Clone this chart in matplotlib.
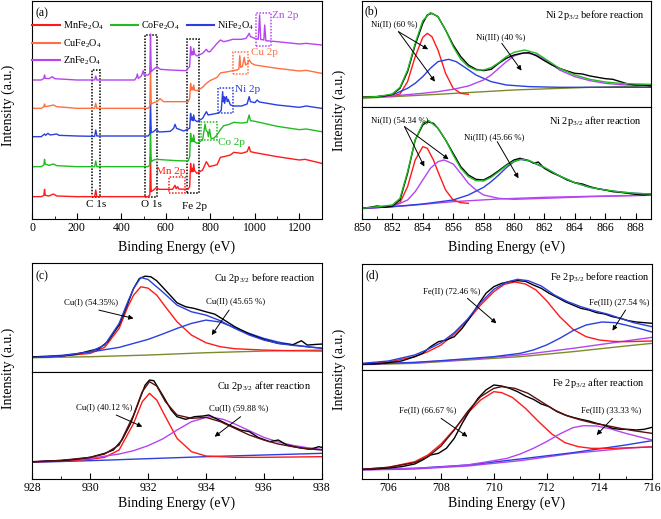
import numpy as np
import matplotlib
matplotlib.use("Agg")
import matplotlib.pyplot as plt
from matplotlib.lines import Line2D
from matplotlib.patches import Rectangle

plt.rcParams['font.family'] = ['Liberation Serif', 'DejaVu Serif']
plt.rcParams['mathtext.fontset'] = 'custom'
plt.rcParams['mathtext.rm'] = 'Liberation Serif'
plt.rcParams['mathtext.it'] = 'Liberation Serif:italic'

RED = '#ff1a1a'
GREEN = '#22bb22'
BLUE = '#2a3fe0'
ORANGE = '#ff6f3f'
PURPLE = '#b445f0'
OLIVE = '#7d8a2a'
DARK = '#5a1010'

# ---------------- (a) survey spectra: (binding energy eV, intensity a.u.) ----------------
mn_survey = np.array([
    (0, 67), (40, 67), (52, 71), (55, 89), (58, 71), (75, 69), (95, 75), (110, 69), (200, 67),
    (280, 67), (285, 87), (290, 67), (520, 67), (528, 72), (531, 187), (534, 82), (545, 87),
    (556, 94), (570, 89), (630, 89), (641, 101), (646, 91), (653, 97), (658, 90), (700, 89),
    (707, 97), (711, 167), (715, 142), (719, 152), (722, 142), (725, 165), (729, 145), (740, 137),
    (765, 147), (782, 172), (795, 157), (830, 163), (845, 185), (860, 187), (890, 192), (905, 200),
    (940, 197), (965, 202), (974, 217), (980, 202), (1000, 199), (1100, 187), (1200, 177),
    (1225, 179), (1300, 167)])
co_survey = np.array([
    (0, 157), (40, 157), (52, 162), (55, 179), (58, 165), (75, 161), (95, 165), (110, 160), (200, 157),
    (280, 157), (285, 174), (290, 157), (520, 157), (528, 162), (531, 277), (534, 172), (545, 177),
    (560, 179), (600, 177), (650, 175), (700, 174), (707, 187), (711, 257), (715, 232), (719, 242),
    (722, 232), (725, 252), (729, 232), (740, 227), (765, 237), (776, 285), (781, 265), (787, 262),
    (791, 247), (796, 269), (803, 242), (815, 242), (830, 252), (845, 268), (860, 280), (880, 283),
    (905, 290), (940, 288), (965, 290), (974, 312), (980, 295), (1000, 293), (1100, 278),
    (1200, 268), (1230, 270), (1300, 262)])
ni_survey = np.array([
    (0, 247), (40, 247), (55, 255), (60, 251), (70, 257), (80, 252), (110, 255), (120, 251), (200, 249),
    (280, 248), (285, 267), (290, 249), (520, 249), (528, 255), (531, 357), (534, 259), (545, 262),
    (556, 269), (570, 261), (620, 263), (635, 272), (641, 284), (648, 272), (680, 264), (707, 272),
    (711, 317), (715, 297), (719, 305), (722, 295), (725, 312), (729, 297), (740, 292), (765, 302),
    (782, 322), (790, 312), (830, 317), (845, 322), (849, 327), (855, 382), (858, 352), (861, 367),
    (864, 347), (868, 362), (872, 367), (876, 352), (880, 359), (890, 342), (905, 339), (940, 339),
    (965, 345), (974, 367), (980, 352), (1000, 349), (1010, 357), (1020, 351), (1100, 342),
    (1200, 335), (1230, 339), (1300, 332)])
cu_survey = np.array([
    (0, 332), (40, 332), (52, 337), (55, 345), (58, 337), (75, 339), (95, 342), (110, 337), (200, 332),
    (280, 332), (285, 347), (290, 332), (520, 332), (528, 339), (531, 457), (534, 345), (545, 349),
    (560, 352), (574, 361), (590, 352), (650, 352), (700, 352), (707, 362), (711, 407), (715, 387),
    (719, 395), (722, 387), (725, 402), (729, 387), (740, 385), (765, 395), (782, 407), (798, 415),
    (830, 425), (845, 438), (860, 440), (880, 442), (900, 445), (920, 447), (928, 450), (932, 490),
    (936, 455), (944, 458), (952, 485), (958, 462), (965, 465), (975, 477), (985, 467), (1000, 462),
    (1100, 452), (1200, 444), (1230, 446), (1300, 437)])
zn_survey = np.array([
    (0, 417), (40, 417), (52, 422), (55, 432), (58, 422), (75, 421), (90, 427), (100, 421), (200, 417),
    (280, 417), (285, 429), (290, 417), (460, 417), (468, 425), (472, 435), (476, 422), (490, 429),
    (498, 445), (502, 432), (520, 432), (528, 437), (531, 555), (534, 442), (545, 449), (560, 457),
    (575, 449), (620, 447), (690, 445), (707, 457), (711, 517), (715, 492), (719, 502), (722, 492),
    (725, 512), (729, 495), (740, 489), (765, 497), (782, 509), (790, 502), (798, 502), (830, 527),
    (845, 537), (860, 532), (880, 535), (900, 539), (940, 539), (960, 542), (970, 552), (974, 557),
    (980, 547), (1000, 542), (1015, 539), (1021, 612), (1026, 539), (1040, 537), (1044, 582),
    (1049, 535), (1100, 532), (1200, 525), (1230, 527), (1300, 522)])
survey_names = ['MnFe$_2$O$_4$', 'CoFe$_2$O$_4$', 'NiFe$_2$O$_4$', 'CuFe$_2$O$_4$', 'ZnFe$_2$O$_4$']
survey_colors = [RED, GREEN, BLUE, ORANGE, PURPLE]

# highlighted regions: (x0, x1, y0, y1, colour, label, label x, label y, ha)
survey_regions = [
    (267, 304, 67, 447, 'black', 'C 1s', 285, 45, 'center'),
    (506, 559, 67, 552, 'black', 'O 1s', 533, 45, 'center'),
    (696, 750, 79, 539, 'black', 'Fe 2p', 728, 39, 'center'),
    (614, 686, 79, 127, RED, 'Mn 2p', 622, 142, 'center'),
    (758, 828, 237, 292, GREEN, 'Co 2p', 836, 229, 'left'),
    (833, 903, 319, 392, BLUE, 'Ni 2p', 911, 389, 'left'),
    (903, 970, 435, 502, ORANGE, 'Cu 2p', 981, 499, 'left'),
    (1003, 1071, 520, 619, PURPLE, 'Zn 2p', 1075, 609, 'left'),
]

# ---------------- (b) Ni 2p3/2 ----------------
ni_before_exp = np.array([
    (850, 30), (850.5, 32), (851, 32), (851.5, 34), (852, 39), (852.5, 57), (853, 107), (853.5, 187),
    (854, 252), (854.3, 277), (854.6, 282), (855, 272), (855.5, 232), (856, 187), (856.5, 152),
    (857, 127), (857.5, 114), (858, 110), (858.5, 114), (859, 132), (859.5, 147), (860, 157),
    (860.5, 162), (861, 164), (861.5, 154), (862, 140), (862.5, 127), (863, 117), (863.5, 109),
    (864, 102), (864.5, 100), (865, 94), (865.5, 90), (866, 86), (866.5, 84), (867, 77),
    (867.5, 70), (868, 67), (868.5, 67), (869, 64)])
ni_before_fit = np.array([
    (850, 30), (851, 32), (852, 40), (852.5, 60), (853, 112), (853.5, 192), (854, 260), (854.5, 284),
    (855, 272), (855.5, 232), (856, 182), (856.5, 144), (857, 122), (857.5, 112), (858, 112),
    (858.5, 119), (859, 134), (859.5, 152), (860, 165), (860.7, 172), (861.5, 162), (862, 147),
    (863, 117), (864, 97), (865, 84), (866, 76), (867, 72), (868, 70), (869, 69)])
ni_before_p1 = np.array([
    (850, 30), (852, 34), (852.5, 40), (853, 77), (853.5, 152), (854, 210), (854.3, 222),
    (854.6, 212), (855, 172), (855.5, 102), (856, 57), (856.5, 42), (857, 39)])
ni_before_p2 = np.array([
    (850, 30), (851, 32), (852, 37), (853, 57), (853.5, 72), (854, 92), (854.5, 117), (855, 137),
    (855.7, 144), (856.2, 137), (856.7, 122), (857.5, 97), (858.5, 77), (859.5, 67), (861, 62),
    (863, 60), (866, 60), (869, 60)])
ni_before_p3 = np.array([
    (850, 30), (852, 34), (854, 42), (855, 47), (856, 54), (857, 64), (858, 82), (858.5, 97),
    (859, 117), (859.5, 137), (860, 154), (860.7, 164), (861.5, 157), (862, 144), (863, 112),
    (864, 92), (865, 80), (866, 72), (867, 68), (868, 66), (869, 65)])
ni_before_bg = np.array([(850, 27), (855, 39), (860, 52), (865, 60), (869, 64)])

ni_after_exp = np.array([
    (850, 32), (850.5, 35), (851, 39), (851.5, 35), (852, 39), (852.5, 57), (853, 137), (853.5, 237),
    (854, 282), (854.3, 292), (854.7, 287), (855, 272), (855.5, 237), (856, 197), (856.5, 157),
    (857, 132), (857.5, 119), (858, 117), (858.5, 129), (859, 145), (859.5, 162), (860, 177),
    (860.4, 182), (861, 175), (861.3, 167), (861.6, 171), (862, 152), (862.5, 139), (863, 129),
    (863.5, 117), (864, 109), (864.5, 105), (865, 97), (865.5, 91), (866, 87), (866.5, 82),
    (867, 80), (867.5, 77), (868, 74), (868.5, 72), (869, 74)])
ni_after_fit = np.array([
    (850, 32), (852, 42), (852.5, 62), (853, 142), (853.5, 237), (854, 287), (854.4, 295), (855, 272),
    (855.5, 237), (856, 192), (856.5, 152), (857, 127), (857.5, 115), (858, 114), (858.5, 125),
    (859, 142), (859.5, 160), (860, 173), (860.5, 179), (861, 175), (862, 155), (863, 129),
    (864, 109), (865, 95), (866, 87), (867, 81), (868, 77), (869, 75)])
ni_after_p1 = np.array([
    (850, 32), (852, 39), (852.5, 49), (853, 97), (853.5, 177), (854, 217), (854.3, 212),
    (854.7, 177), (855, 142), (855.5, 87), (856, 57), (856.5, 49), (857, 47)])
ni_after_p2 = np.array([
    (850, 32), (852, 37), (853, 57), (853.5, 82), (854, 117), (854.5, 152), (855, 172), (855.4, 177),
    (856, 165), (856.5, 137), (857, 107), (857.5, 87), (858, 72), (859, 62), (860, 59), (862, 62),
    (865, 67), (869, 72)])
ni_after_p3 = np.array([
    (850, 32), (852, 37), (854, 45), (856, 57), (857, 72), (858, 95), (858.5, 112), (859, 132),
    (859.5, 154), (860, 172), (860.4, 179), (861, 174), (862, 154), (863, 129), (864, 109),
    (865, 95), (866, 87), (867, 81), (868, 77), (869, 75)])
ni_after_bg = np.array([(850, 31), (853, 40), (856, 52), (859, 60), (862, 65), (865, 68), (869, 71)])

# ---------------- (c) Cu 2p3/2 ----------------
cu_before_exp = np.array([
    (928, 45), (928.5, 45), (929, 47), (929.5, 52), (930, 63), (930.3, 69), (930.6, 90), (931, 140),
    (931.3, 205), (931.5, 250), (931.7, 280), (931.9, 287), (932.1, 285), (932.3, 273), (932.6, 245),
    (933, 207), (933.3, 195), (933.6, 190), (934, 180), (934.3, 173), (934.6, 157), (935, 135),
    (935.5, 113), (936, 97), (936.5, 85), (937, 81), (937.3, 93), (937.5, 80), (937.8, 82), (938, 83)])
cu_before_fit = np.array([
    (928, 43), (929, 47), (930, 60), (930.5, 80), (931, 145), (931.3, 210), (931.5, 250),
    (931.75, 283), (932, 277), (932.5, 240), (933, 200), (933.5, 180), (934, 170), (934.5, 153),
    (935, 130), (935.5, 110), (936, 95), (936.5, 85), (937, 79), (937.5, 75), (938, 71)])
cu_before_p1 = np.array([
    (928, 45), (929, 47), (930, 55), (930.5, 73), (931, 130), (931.3, 195), (931.5, 230),
    (931.75, 255), (932, 251), (932.3, 230), (932.6, 195), (933, 150), (933.5, 110), (934, 87),
    (934.5, 75), (935, 69), (936, 65), (937, 63), (938, 62)])
cu_before_p2 = np.array([
    (928, 44), (929, 49), (930, 59), (931, 73), (932, 97), (932.5, 113), (933, 130), (933.5, 145),
    (934, 155), (934.5, 149), (935, 132), (935.5, 115), (936, 100), (936.5, 89), (937, 81),
    (937.5, 75), (938, 70)])
cu_before_bg = np.array([(928, 42), (930, 45), (932, 50), (934, 57), (936, 62), (938, 65)])

cu_after_exp = np.array([
    (928, 52), (928.5, 54), (929, 55), (929.5, 59), (930, 65), (930.5, 77), (930.8, 87), (931.1, 117),
    (931.4, 167), (931.7, 237), (931.9, 282), (932.05, 297), (932.2, 295), (932.5, 252), (932.8, 207),
    (933, 187), (933.3, 179), (933.6, 187), (933.9, 189), (934.1, 192), (934.4, 179), (934.8, 162),
    (935.2, 147), (935.5, 142), (935.8, 125), (936.2, 112), (936.5, 117), (936.8, 102), (937.2, 94),
    (937.6, 89), (937.9, 97), (938, 95)])
cu_after_fit = np.array([
    (928, 51), (929, 56), (930, 65), (930.5, 75), (931, 102), (931.5, 192), (931.8, 262),
    (932.05, 292), (932.3, 279), (932.6, 232), (933, 192), (933.5, 182), (934, 185), (934.5, 172),
    (935, 152), (935.5, 132), (936, 117), (936.5, 105), (937, 97), (937.5, 91), (938, 87)])
cu_after_p1 = np.array([
    (928, 51), (929, 54), (930, 59), (930.5, 65), (931, 87), (931.5, 167), (931.8, 232),
    (932.05, 257), (932.3, 237), (932.6, 187), (933, 122), (933.5, 82), (934, 69), (935, 65),
    (936, 65), (938, 67)])
cu_after_p2 = np.array([
    (928, 51), (929, 56), (930, 62), (931, 75), (931.5, 85), (932, 100), (932.5, 120), (933, 147),
    (933.5, 172), (934.1, 187), (934.6, 179), (935, 165), (935.5, 145), (936, 125), (936.5, 111),
    (937, 101), (937.5, 94), (938, 89)])
cu_after_bg = np.array([(928, 50), (930, 55), (932, 61), (934, 67), (936, 72), (938, 77)])

# ---------------- (d) Fe 2p3/2 ----------------
fe_before_exp = np.array([
    (705, 18), (705.5, 18), (706, 22), (706.5, 27), (707, 40), (707.3, 50), (707.6, 70), (707.9, 85),
    (708.2, 90), (708.5, 100), (708.8, 125), (709.1, 158), (709.4, 195), (709.7, 230), (710, 250),
    (710.3, 260), (710.6, 265), (710.9, 268), (711.2, 266), (711.5, 255), (711.8, 245), (712.1, 230),
    (712.4, 218), (712.7, 205), (713, 195), (713.3, 185), (713.6, 180), (713.9, 172), (714.2, 168),
    (714.5, 160), (714.8, 155), (715.1, 148), (715.4, 144), (715.7, 142), (716, 140)])
fe_before_fit = np.array([
    (705, 20), (706, 27), (707, 45), (707.5, 62), (708, 82), (708.5, 112), (709, 152), (709.5, 202),
    (710, 242), (710.5, 264), (710.9, 272), (711.3, 268), (711.8, 252), (712.3, 225), (712.8, 205),
    (713.3, 190), (713.8, 178), (714.3, 168), (714.8, 155), (715.3, 142), (716, 130)])
fe_before_p1 = np.array([
    (705, 18), (706, 24), (707, 40), (707.5, 55), (708, 75), (708.5, 108), (709, 148), (709.5, 195),
    (710, 235), (710.4, 257), (710.8, 264), (711.2, 258), (711.6, 240), (712, 208), (712.5, 160),
    (713, 122), (713.5, 100), (714, 90), (714.5, 86), (715, 85), (715.5, 86), (716, 87)])
fe_before_p2 = np.array([
    (705, 18), (706, 20), (707, 23), (708, 28), (709, 34), (710, 40), (711, 50), (711.5, 60),
    (712, 75), (712.5, 95), (713, 118), (713.5, 135), (714.1, 144), (714.6, 142), (715, 135),
    (715.5, 125), (716, 114)])
fe_before_bg1 = np.array([(705, 17), (707, 22), (709, 32), (711, 45), (713, 65), (715, 87), (716, 98)])
fe_before_bg2 = np.array([(705, 16), (707, 20), (709, 30), (711, 40), (713, 55), (715, 72), (716, 80)])

fe_after_exp = np.array([
    (705, 29), (705.5, 30), (706, 33), (706.5, 37), (707, 45), (707.3, 57), (707.6, 72), (707.9, 77),
    (708.2, 92), (708.5, 122), (708.8, 167), (709.1, 207), (709.4, 242), (709.7, 267), (710, 282),
    (710.3, 279), (710.6, 272), (710.9, 262), (711.2, 249), (711.5, 239), (711.8, 225), (712.1, 217),
    (712.4, 202), (712.7, 192), (713, 185), (713.3, 179), (713.6, 174), (713.9, 167), (714.2, 161),
    (714.5, 152), (714.8, 149), (715.1, 149), (715.4, 147), (715.7, 149), (716, 155)])
fe_after_fit = np.array([
    (705, 29), (706, 35), (707, 49), (707.5, 67), (708, 99), (708.5, 147), (709, 202), (709.5, 247),
    (710, 272), (710.3, 277), (710.8, 272), (711.3, 257), (711.8, 232), (712.3, 207), (712.8, 189),
    (713.3, 177), (713.8, 167), (714.3, 160), (714.8, 152), (715.3, 145), (716, 137)])
fe_after_p1 = np.array([
    (705, 29), (706, 35), (707, 52), (707.5, 72), (708, 105), (708.5, 149), (709, 197), (709.5, 237),
    (710, 262), (710.3, 259), (710.7, 245), (711.2, 212), (711.7, 172), (712.2, 135), (712.7, 109),
    (713.2, 97), (713.7, 92), (714.5, 92), (715.2, 94), (716, 96)])
fe_after_p2 = np.array([
    (705, 29), (706, 30), (707, 32), (708, 36), (709, 42), (710, 55), (710.5, 62), (711, 75),
    (711.5, 92), (712, 112), (712.5, 135), (713, 154), (713.4, 160), (713.9, 159), (714.4, 151),
    (715, 137), (715.5, 127), (716, 117)])
fe_after_bg1 = np.array([(705, 28), (707, 32), (709, 42), (711, 60), (713, 79), (715, 102), (716, 115)])
fe_after_bg2 = np.array([(705, 27), (707, 30), (709, 39), (711, 55), (713, 77), (715, 92), (716, 97)])

W, H = 661, 519
fig = plt.figure(figsize=(W / 100, H / 100), dpi=100)


def px_axes(left, top, right, bottom):
    return fig.add_axes([left / W, 1 - bottom / H, (right - left) / W, (bottom - top) / H])


def style(ax, xlim, major, minor, labels=True):
    ax.set_xlim(*xlim)
    ax.set_yticks([])
    ax.set_xticks(np.arange(xlim[0], xlim[1] + 0.01, major))
    ax.set_xticks(np.arange(xlim[0], xlim[1] + 0.01, minor), minor=True)
    ax.tick_params(axis='x', which='both', direction='in', top=False, labelsize=8.5, pad=2.0)
    ax.tick_params(axis='x', which='major', length=4, width=0.8)
    ax.tick_params(axis='x', which='minor', length=2, width=0.6)
    if not labels:
        ax.tick_params(axis='x', which='both', bottom=False, labelbottom=False)
    for s in ax.spines.values():
        s.set_linewidth(0.8)


def note(ax, xy, xytext):
    ax.annotate('', xy=xy, xytext=xytext,
                arrowprops=dict(arrowstyle='-|>', color='k', lw=0.7, mutation_scale=7, shrinkA=0, shrinkB=0))


def label(ax, text, x, y, ha='left', size=6.3):
    ax.text(x, y, text, ha=ha, va='center', fontsize=size)


# ---- panel (a)
ax = px_axes(32.3, 1, 321.7, 219)
for data, c in zip([mn_survey, co_survey, ni_survey, cu_survey, zn_survey], survey_colors):
    ax.plot(data[:, 0], data[:, 1], color=c, lw=1.0)
for x0, x1, y0, y1, c, txt, tx, ty, ha in survey_regions:
    ax.add_patch(Rectangle((x0, y0), x1 - x0, y1 - y0, fill=False, ec=c, ls=(0, (1, 1)), lw=1.1))
    ax.text(tx, ty, txt, color=c, ha=ha, va='center', fontsize=8)
ax.set_ylim(0, 654)
style(ax, (0, 1300), 200, 100)
ax.text(0.01, 0.945, '(a)', transform=ax.transAxes, fontsize=8.5, va='center')
lines = [Line2D([], [], color=c, lw=1.5) for c in survey_colors]
blank = Line2D([], [], color='none')
ax.legend([lines[0], lines[3], lines[4], lines[1], blank, blank, lines[2], blank, blank],
          [survey_names[0], survey_names[3], survey_names[4], survey_names[1], '', '',
           survey_names[2], '', ''],
          ncol=3, loc='upper left', bbox_to_anchor=(0.0, 0.915), frameon=False, fontsize=7.3,
          handlelength=2.7, handletextpad=0.3, columnspacing=0.7, labelspacing=0.5,
          borderpad=0.0, borderaxespad=0.0)

# ---- panel (b)
bt = px_axes(362, 1, 650.7, 107.3)
bb = px_axes(362, 107.3, 650.7, 219)
for d, c in [(ni_before_bg, OLIVE), (ni_before_p1, RED), (ni_before_p2, BLUE), (ni_before_p3, PURPLE),
             (ni_before_exp, 'black'), (ni_before_fit, GREEN)]:
    bt.plot(d[:, 0], d[:, 1], color=c, lw=1.0)
for d, c in [(ni_after_bg, PURPLE), (ni_after_p1, RED), (ni_after_p2, PURPLE), (ni_after_p3, BLUE),
             (ni_after_exp, 'black'), (ni_after_fit, GREEN)]:
    bb.plot(d[:, 0], d[:, 1], color=c, lw=1.0)
bt.set_ylim(0, 319)
bb.set_ylim(0, 335)
style(bt, (850, 869), 2, 1, labels=False)
style(bb, (850, 869), 2, 1)
bt.text(0.01, 0.9, '(b)', transform=bt.transAxes, fontsize=8.5, va='center')
label(bt, 'Ni 2p$_{3/2}$ before reaction', 868.6, 277, ha='right', size=7.5)
label(bt, 'Ni(II) (60 %)', 850.6, 250)
note(bt, (854.35, 174), (852.4, 227))
note(bt, (854.8, 77), (852.4, 227))
label(bt, 'Ni(III) (40 %)', 857.5, 210)
note(bt, (860.5, 110), (859.2, 192))
label(bb, 'Ni 2p$_{3/2}$ after reaction', 868.4, 295, ha='right', size=7.5)
label(bb, 'Ni(II) (54.34 %)', 850.6, 295)
note(bb, (854.1, 157), (852.8, 277))
note(bb, (855.7, 179), (852.8, 277))
label(bb, 'Ni(III) (45.66 %)', 856.7, 245)
note(bb, (860.3, 122), (858.9, 232))

# ---- panel (c)
ct = px_axes(32.3, 263.5, 321.7, 371.7)
cb = px_axes(32.3, 371.7, 321.7, 479)
for d, c in [(cu_before_bg, OLIVE), (cu_before_p1, RED), (cu_before_p2, BLUE),
             (cu_before_exp, 'black'), (cu_before_fit, BLUE)]:
    ct.plot(d[:, 0], d[:, 1], color=c, lw=1.0)
for d, c in [(cu_after_bg, BLUE), (cu_after_p1, RED), (cu_after_p2, PURPLE),
             (cu_after_exp, 'black'), (cu_after_fit, DARK)]:
    cb.plot(d[:, 0], d[:, 1], color=c, lw=1.0)
ct.set_ylim(0, 325)
cb.set_ylim(0, 322)
style(ct, (928, 938), 2, 1, labels=False)
style(cb, (928, 938), 2, 1)
ct.text(0.012, 0.885, '(c)', transform=ct.transAxes, fontsize=8.5, va='center')
label(ct, 'Cu 2p$_{3/2}$ before reaction', 937.8, 280, ha='right', size=7.5)
label(ct, 'Cu(I) (54.35%)', 929.1, 210)
note(ct, (931.5, 160), (930.3, 185))
label(ct, 'Cu(II) (45.65 %)', 934.0, 213)
note(ct, (934.2, 110), (934.8, 185))
label(cb, 'Cu 2p$_{3/2}$ after reaction', 937.65, 279, ha='right', size=7.5)
label(cb, 'Cu(I) (40.12 %)', 929.5, 217)
note(cb, (931.8, 157), (930.9, 192))
label(cb, 'Cu(II) (59.88 %)', 934.1, 214)
note(cb, (934.3, 127), (935.2, 187))

# ---- panel (d)
dt = px_axes(362, 264, 652, 370)
db = px_axes(362, 370, 652, 479)
for d, c in [(fe_before_bg2, OLIVE), (fe_before_bg1, PURPLE), (fe_before_p1, RED), (fe_before_p2, BLUE),
             (fe_before_exp, 'black'), (fe_before_fit, BLUE)]:
    dt.plot(d[:, 0], d[:, 1], color=c, lw=1.0)
for d, c in [(fe_after_bg2, PURPLE), (fe_after_bg1, BLUE), (fe_after_p1, RED), (fe_after_p2, PURPLE),
             (fe_after_exp, 'black'), (fe_after_fit, DARK)]:
    db.plot(d[:, 0], d[:, 1], color=c, lw=1.0)
dt.set_ylim(0, 318)
db.set_ylim(0, 327)
style(dt, (705, 716), 1, 1, labels=False)
style(db, (705, 716), 1, 1)
db.set_xticks(np.arange(706, 717, 2))
db.set_xticks(np.arange(705, 717, 1), minor=True)
dt.text(0.012, 0.89, '(d)', transform=dt.transAxes, fontsize=8.5, va='center')
label(dt, 'Fe 2p$_{3/2}$ before reaction', 715.9, 280, ha='right', size=7.5)
label(dt, 'Fe(II) (72.46 %)', 707.3, 235)
note(dt, (710.1, 140), (709.0, 215))
label(dt, 'Fe(III) (27.54 %)', 713.6, 202)
note(dt, (714.5, 118), (715.0, 180))
label(db, 'Fe 2p$_{3/2}$ after reaction', 715.7, 287, ha='right', size=7.5)
label(db, 'Fe(II) (66.67 %)', 706.4, 207)
note(db, (709.0, 127), (708.0, 182))
label(db, 'Fe(III) (33.33 %)', 713.3, 207)
note(db, (713.9, 132), (714.5, 182))

# axis titles
for x, y in [(8, 105), (339, 110), (8, 368), (339, 369)]:
    fig.text(x / W, 1 - y / H, 'Intensity (a.u.)', rotation=90, ha='center', va='center', fontsize=10)
for x, y in [(177, 247), (507, 247), (177, 503), (507, 503)]:
    fig.text(x / W, 1 - y / H, 'Binding Energy (eV)', ha='center', va='center', fontsize=10)

fig.savefig('out.png', dpi=100, facecolor='white')
